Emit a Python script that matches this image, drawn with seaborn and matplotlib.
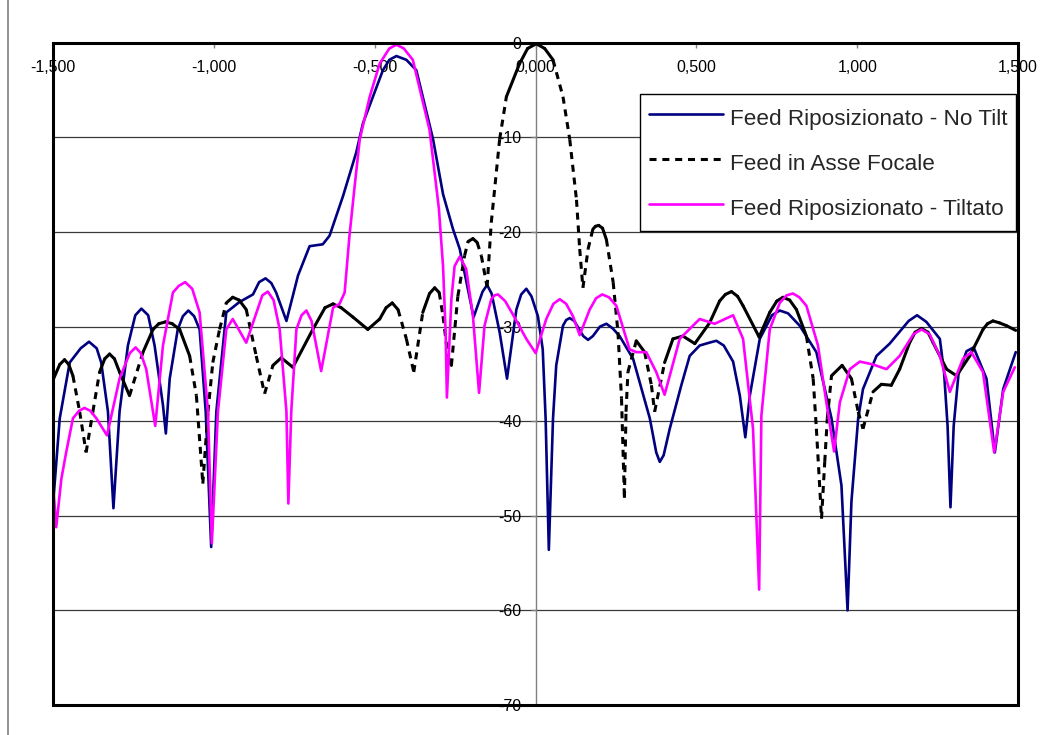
import numpy as np
import pandas as pd
import matplotlib
matplotlib.use("Agg")
import matplotlib.pyplot as plt
import seaborn as sns
from matplotlib.lines import Line2D
from matplotlib.patches import Rectangle

# ---------------- data (x, dB) ----------------
notilt_pts = [
    (-1.499, -48.0), (-1.480, -39.7), (-1.449, -33.8), (-1.415, -32.3), (-1.389, -31.6),
    (-1.365, -32.3), (-1.351, -33.8), (-1.330, -39.0), (-1.313, -49.2), (-1.294, -39.0),
    (-1.268, -32.0), (-1.245, -28.8), (-1.226, -28.1), (-1.205, -28.8), (-1.185, -32.0),
    (-1.159, -38.3), (-1.150, -41.3), (-1.138, -35.5), (-1.113, -30.3), (-1.097, -28.9),
    (-1.080, -28.3), (-1.062, -28.9), (-1.045, -30.3), (-1.026, -39.0), (-1.009, -53.3),
    (-0.993, -39.0), (-0.962, -28.5), (-0.921, -27.4), (-0.879, -26.6), (-0.860, -25.3),
    (-0.840, -24.9), (-0.822, -25.4), (-0.807, -26.4), (-0.775, -29.4), (-0.739, -24.6),
    (-0.703, -21.5), (-0.662, -21.3), (-0.641, -20.4), (-0.599, -16.2), (-0.558, -11.6),
    (-0.537, -8.5), (-0.506, -5.7), (-0.475, -2.9), (-0.455, -1.8), (-0.433, -1.4),
    (-0.402, -1.8), (-0.371, -2.9), (-0.319, -10.2), (-0.288, -16.0), (-0.257, -19.7),
    (-0.236, -21.8), (-0.193, -29.0), (-0.165, -26.3), (-0.151, -25.6), (-0.137, -26.5),
    (-0.112, -30.6), (-0.089, -35.5), (-0.060, -28.2), (-0.045, -26.6), (-0.029, -26.0),
    (-0.013, -26.8), (0.007, -28.9), (0.022, -32.4), (0.031, -39.7), (0.041, -53.6),
    (0.054, -39.7), (0.064, -34.1), (0.085, -29.9), (0.095, -29.3), (0.106, -29.1),
    (0.120, -29.4), (0.148, -31.0), (0.163, -31.4), (0.178, -31.0), (0.200, -30.0),
    (0.220, -29.7), (0.240, -30.2), (0.261, -31.0), (0.303, -33.4), (0.355, -39.7),
    (0.375, -43.3), (0.386, -44.3), (0.398, -43.6), (0.417, -40.8), (0.453, -36.2),
    (0.479, -33.1), (0.510, -32.0), (0.540, -31.7), (0.562, -31.5), (0.585, -32.0),
    (0.614, -33.7), (0.635, -37.3), (0.652, -41.7), (0.666, -37.3), (0.697, -31.3),
    (0.735, -28.8), (0.759, -28.3), (0.785, -28.6), (0.821, -29.9), (0.873, -32.7),
    (0.920, -39.7), (0.951, -46.8), (0.970, -60.0), (0.982, -48.5), (1.003, -39.7),
    (1.018, -36.6), (1.060, -33.1), (1.101, -31.8), (1.160, -29.4), (1.186, -28.8),
    (1.215, -29.5), (1.257, -31.3), (1.270, -34.8), (1.281, -40.5), (1.290, -49.1),
    (1.300, -40.5), (1.315, -35.0), (1.340, -32.6), (1.362, -32.2), (1.402, -35.5),
    (1.428, -43.3), (1.454, -36.6), (1.493, -32.7),
]

focal_pts = [
    (-1.499, -35.5), (-1.480, -34.0), (-1.465, -33.5), (-1.452, -34.0), (-1.439, -35.2),
    (-1.418, -39.0), (-1.398, -43.3), (-1.377, -39.0), (-1.356, -34.8), (-1.340, -33.4),
    (-1.325, -32.9), (-1.310, -33.4), (-1.294, -34.8), (-1.263, -37.3), (-1.221, -32.7),
    (-1.190, -30.3), (-1.172, -29.7), (-1.151, -29.5), (-1.130, -29.7), (-1.107, -30.3),
    (-1.076, -33.1), (-1.055, -37.3), (-1.035, -46.6), (-1.019, -39.0), (-1.004, -33.8),
    (-0.983, -30.3), (-0.962, -27.5), (-0.942, -26.9), (-0.922, -27.2), (-0.900, -28.2),
    (-0.869, -33.1), (-0.843, -37.1), (-0.817, -34.1), (-0.791, -33.3), (-0.755, -34.3),
    (-0.693, -30.3), (-0.655, -28.0), (-0.630, -27.6), (-0.605, -28.0), (-0.568, -29.0),
    (-0.522, -30.3), (-0.485, -29.2), (-0.465, -28.0), (-0.446, -27.5), (-0.428, -28.2),
    (-0.402, -31.3), (-0.379, -34.8), (-0.351, -28.5), (-0.330, -26.5), (-0.314, -25.9),
    (-0.300, -26.4), (-0.288, -28.9), (-0.273, -33.1), (-0.262, -34.1), (-0.242, -26.8),
    (-0.221, -22.5), (-0.210, -21.0), (-0.195, -20.7), (-0.182, -21.1), (-0.169, -22.5),
    (-0.151, -25.8), (-0.138, -19.0), (-0.112, -10.2), (-0.091, -5.7), (-0.050, -2.2),
    (-0.025, -0.6), (0.002, -0.1), (0.028, -0.6), (0.054, -1.8), (0.085, -5.7),
    (0.106, -10.2), (0.127, -16.6), (0.137, -21.8), (0.147, -25.9), (0.163, -21.8),
    (0.178, -19.7), (0.186, -19.4), (0.196, -19.3), (0.208, -19.6), (0.220, -20.8),
    (0.241, -25.3), (0.256, -30.6), (0.267, -37.6), (0.276, -48.1), (0.281, -39.0),
    (0.287, -34.8), (0.313, -31.5), (0.339, -32.7), (0.360, -36.2), (0.370, -39.0),
    (0.401, -33.8), (0.427, -31.3), (0.458, -31.0), (0.495, -31.8), (0.541, -29.6),
    (0.572, -27.3), (0.590, -26.6), (0.609, -26.3), (0.628, -26.8), (0.645, -27.8),
    (0.695, -31.1), (0.728, -28.5), (0.750, -27.3), (0.769, -26.9), (0.790, -27.2),
    (0.811, -28.2), (0.842, -31.0), (0.863, -35.5), (0.873, -40.8), (0.889, -50.3),
    (0.899, -44.3), (0.907, -39.7), (0.920, -35.2), (0.953, -34.1), (0.982, -35.5),
    (1.003, -39.0), (1.018, -40.8), (1.049, -36.9), (1.075, -36.1), (1.106, -36.2),
    (1.132, -34.5), (1.163, -31.7), (1.180, -30.6), (1.200, -30.2), (1.220, -30.6),
    (1.236, -31.7), (1.278, -34.5), (1.309, -35.2), (1.350, -33.1), (1.391, -30.3),
    (1.405, -29.7), (1.422, -29.4), (1.442, -29.6), (1.464, -29.9), (1.493, -30.4),
]

tilt_pts = [
    (-1.499, -47.5), (-1.491, -51.2), (-1.475, -46.1), (-1.460, -43.3), (-1.439, -39.7),
    (-1.420, -38.9), (-1.403, -38.6), (-1.385, -38.9), (-1.366, -39.7), (-1.333, -41.5),
    (-1.294, -35.5), (-1.262, -32.8), (-1.244, -32.2), (-1.228, -32.8), (-1.211, -34.5),
    (-1.183, -40.5), (-1.159, -32.0), (-1.128, -26.4), (-1.110, -25.7), (-1.090, -25.3),
    (-1.068, -26.0), (-1.045, -28.5), (-1.019, -39.0), (-1.007, -52.9), (-0.988, -39.0),
    (-0.962, -30.3), (-0.942, -29.2), (-0.900, -31.7), (-0.850, -26.7), (-0.833, -26.3),
    (-0.815, -27.2), (-0.796, -30.3), (-0.775, -39.0), (-0.769, -48.7), (-0.760, -39.0),
    (-0.744, -30.3), (-0.728, -28.8), (-0.713, -28.3), (-0.697, -29.4), (-0.667, -34.7),
    (-0.630, -28.0), (-0.610, -27.6), (-0.594, -26.4), (-0.579, -20.4), (-0.563, -15.2),
    (-0.547, -10.2), (-0.516, -5.7), (-0.485, -2.2), (-0.455, -0.6), (-0.433, -0.2),
    (-0.410, -0.6), (-0.382, -1.8), (-0.330, -9.2), (-0.301, -17.5), (-0.288, -23.6),
    (-0.280, -30.6), (-0.276, -37.5), (-0.262, -27.1), (-0.252, -23.6), (-0.236, -22.6),
    (-0.216, -23.9), (-0.195, -28.9), (-0.176, -37.0), (-0.159, -29.9), (-0.138, -27.1),
    (-0.128, -26.7), (-0.117, -26.6), (-0.095, -27.3), (-0.071, -28.7), (-0.029, -31.3),
    (0.000, -32.8), (0.033, -29.2), (0.055, -27.6), (0.075, -27.1), (0.095, -27.6),
    (0.116, -28.9), (0.137, -30.9), (0.168, -28.2), (0.188, -27.0), (0.207, -26.6),
    (0.228, -26.9), (0.251, -27.8), (0.292, -32.4), (0.313, -32.7), (0.344, -32.7),
    (0.375, -34.8), (0.401, -37.2), (0.448, -31.3), (0.510, -29.2), (0.557, -29.7),
    (0.614, -28.8), (0.645, -31.3), (0.676, -40.8), (0.695, -57.8), (0.702, -39.4),
    (0.728, -30.3), (0.759, -27.5), (0.780, -26.7), (0.800, -26.5), (0.820, -26.9),
    (0.842, -27.8), (0.878, -32.0), (0.904, -38.0), (0.928, -43.2), (0.946, -38.0),
    (0.977, -34.5), (1.008, -33.7), (1.049, -34.0), (1.091, -34.5), (1.132, -33.1),
    (1.175, -30.8), (1.200, -30.3), (1.225, -30.8), (1.257, -33.1), (1.288, -36.9),
    (1.329, -33.4), (1.355, -32.7), (1.391, -34.8), (1.426, -43.3), (1.454, -36.9),
    (1.490, -34.3),
]

series_labels = ["Feed Riposizionato - No Tilt", "Feed in Asse Focale", "Feed Riposizionato - Tiltato"]
xtick_values = [-1.5, -1.0, -0.5, 0.0, 0.5, 1.0, 1.5]
xtick_labels = ["-1,500", "-1,000", "-0,500", "0,000", "0,500", "1,000", "1,500"]
ytick_values = [0, -10, -20, -30, -40, -50, -60, -70]
ytick_labels = ["0", "-10", "-20", "-30", "-40", "-50", "-60", "-70"]

notilt_x, notilt_y = [list(v) for v in zip(*notilt_pts)]
focal_x, focal_y = [list(v) for v in zip(*focal_pts)]
tilt_x, tilt_y = [list(v) for v in zip(*tilt_pts)]

# ---------------- style ----------------
sns.set_style("white")
plt.rcParams["font.family"] = ["Liberation Sans", "DejaVu Sans"]
plt.rcParams["axes.unicode_minus"] = False

NAVY = "#000080"
MAGENTA = "#FF00FF"
BLACK = "#000000"

fig = plt.figure(figsize=(10.41, 7.35), dpi=100)
ax = fig.add_axes([53.3 / 1041, 1 - 705 / 735, (1018 - 53.3) / 1041, (705 - 42.8) / 735])
ax.set_xlim(-1.5, 1.5)
ax.set_ylim(-70, 0)

ax.set_yticks(ytick_values)
ax.set_yticklabels(ytick_labels)
ax.set_xticks(xtick_values)
ax.set_xticklabels(xtick_labels)
ax.grid(axis="y", color="#3a3a3a", lw=0.9)
ax.grid(axis="x", visible=False)
ax.set_axisbelow(True)

# series 1: navy
sns.lineplot(x=notilt_x, y=notilt_y, sort=False, estimator=None, color=NAVY,
             lw=1.9, ax=ax, legend=False, solid_joinstyle="round")

# series 2: black, Excel-like dashes restarting on each segment (visible only where steep)
pts = ax.transData.transform(np.column_stack([focal_x, focal_y]))
d = np.diff(pts, axis=0)
slope = np.abs(d[:, 1]) / np.maximum(np.abs(d[:, 0]), 1e-6)
rows = []
for i in range(len(focal_x) - 1):
    kind = "dash" if slope[i] > 3.0 else "solid"
    rows.append((focal_x[i], focal_y[i], i, kind))
    rows.append((focal_x[i + 1], focal_y[i + 1], i, kind))
df_focal = pd.DataFrame(rows, columns=["x", "y", "seg", "kind"])
sns.lineplot(data=df_focal, x="x", y="y", units="seg", style="kind",
             dashes={"solid": "", "dash": (2.3, 1.9)}, estimator=None, sort=False,
             color=BLACK, lw=2.2, ax=ax, legend=False,
             solid_capstyle="round", dash_capstyle="butt")

# series 3: magenta
sns.lineplot(x=tilt_x, y=tilt_y, sort=False, estimator=None, color=MAGENTA,
             lw=1.9, ax=ax, legend=False, solid_joinstyle="round")

ax.set_xlabel("")
ax.set_ylabel("")

# axes: vertical value axis at x=0, category axis along the top (y=0)
for s in ["top", "right", "bottom"]:
    ax.spines[s].set_visible(False)
ax.spines["left"].set_position(("data", 0))
ax.spines["left"].set_color("#808080")
ax.spines["left"].set_linewidth(1.0)
ax.spines["left"].set_zorder(1.5)

ax.xaxis.set_ticks_position("top")
ax.tick_params(axis="x", top=True, bottom=False, labeltop=True, labelbottom=False,
               direction="in", length=3.6, width=1, color="#808080", pad=-23,
               labelsize=11.5, labelcolor="black")
ax.tick_params(axis="y", left=True, right=False, direction="out", length=3.6, width=1,
               color="#808080", pad=6.7, labelsize=11.5, labelcolor="black")

# plot-area border
ax.add_patch(Rectangle((0, 0), 1, 1, transform=ax.transAxes, fill=False,
                       ec="black", lw=2.2, clip_on=False, zorder=6))

# legend
handles = [Line2D([0], [0], color=NAVY, lw=1.9),
           Line2D([0], [0], color=BLACK, lw=2.2, ls=(0, (2.3, 1.9))),
           Line2D([0], [0], color=MAGENTA, lw=1.9)]
leg = ax.legend(handles, series_labels, loc="upper right",
                bbox_to_anchor=((1016 - 53.3) / 964.7, (705 - 94) / 662.2),
                frameon=True, fancybox=False, edgecolor="black", framealpha=1,
                fontsize=16.2, handlelength=3.3, handleheight=1.65,
                handletextpad=0.32, labelspacing=0.69, borderpad=0.38,
                borderaxespad=0)
leg.get_frame().set_linewidth(1.0)
leg.set_zorder(7)

# chart-area border (left edge visible in the reference)
fig.add_artist(Line2D([7.5 / 1041, 7.5 / 1041], [0, 1], transform=fig.transFigure,
                      color="#808080", lw=1.2))

fig.savefig("out.png", dpi=100)
